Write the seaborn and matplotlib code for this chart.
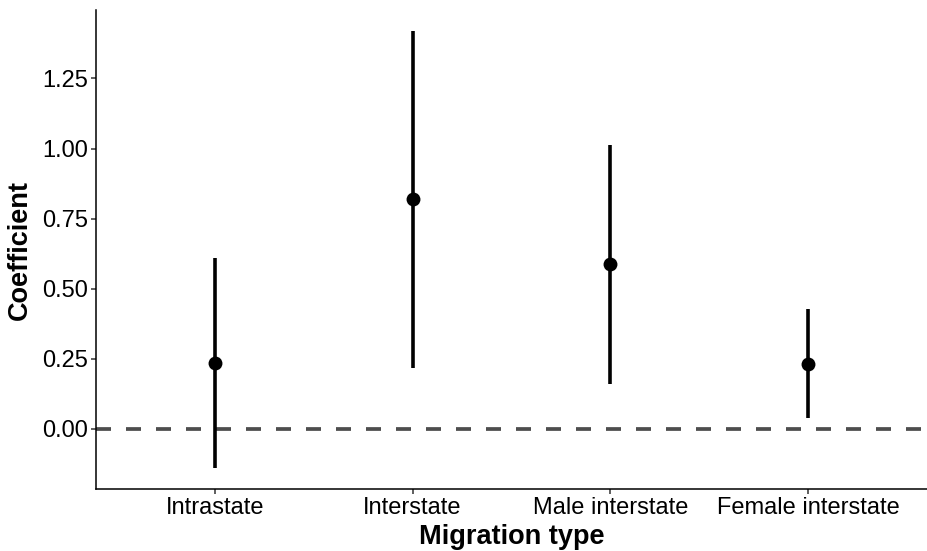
import numpy as np
import pandas as pd
import matplotlib
matplotlib.use("Agg")
import matplotlib.pyplot as plt
import seaborn as sns

# values
categories = ["Intrastate", "Interstate", "Male interstate", "Female interstate"]
coef = [0.237, 0.819, 0.587, 0.233]
lower = [-0.139, 0.218, 0.162, 0.039]
upper = [0.609, 1.420, 1.013, 0.427]
y_ticks = [0.00, 0.25, 0.50, 0.75, 1.00, 1.25]

sns.set_style("ticks")
plt.rcParams['font.family'] = ['Liberation Sans', 'DejaVu Sans']

# long format: lower / estimate / upper per type, so pointplot can draw the interval
df = pd.DataFrame({
    'type': np.repeat(categories, 3),
    'value': np.column_stack([lower, coef, upper]).ravel()
})

fig = plt.figure(figsize=(9.27, 5.51), dpi=100)
ax = fig.add_axes([96 / 927, 62 / 551, 831 / 927, 479 / 551])

ax.axhline(0, color='#4d4d4d', linewidth=2.7, linestyle=(0, (4, 4)), zorder=1)

sns.pointplot(data=df, x='type', y='value', order=categories,
              estimator=np.median, errorbar=lambda v: (v.min(), v.max()),
              color='black', linestyle='none', marker='o', markersize=10,
              markeredgewidth=0,
              err_kws={'linewidth': 2.6, 'solid_capstyle': 'butt'}, ax=ax)

ax.set_xlim(-0.6, 3.6)
ax.set_ylim(-0.214, 1.494)
ax.set_yticks(y_ticks)
ax.set_yticklabels([f"{t:.2f}" for t in y_ticks])

sns.despine(ax=ax)
for side in ['left', 'bottom']:
    ax.spines[side].set_color('black')
    ax.spines[side].set_linewidth(1.1)
ax.tick_params(axis='both', colors='#333333', length=3.6, width=1.1,
               labelsize=17, labelcolor='black', pad=2)

ax.set_xlabel("Migration type", fontsize=19.5, fontweight='bold', color='black')
ax.set_ylabel("Coefficient", fontsize=19.5, fontweight='bold', color='black')
ax.xaxis.label.set_va('center')
ax.yaxis.label.set_va('center')
ax.xaxis.set_label_coords(0.5, -0.1)
ax.yaxis.set_label_coords((20 - 96) / 831, 0.5)

fig.savefig("out.png", dpi=100)
